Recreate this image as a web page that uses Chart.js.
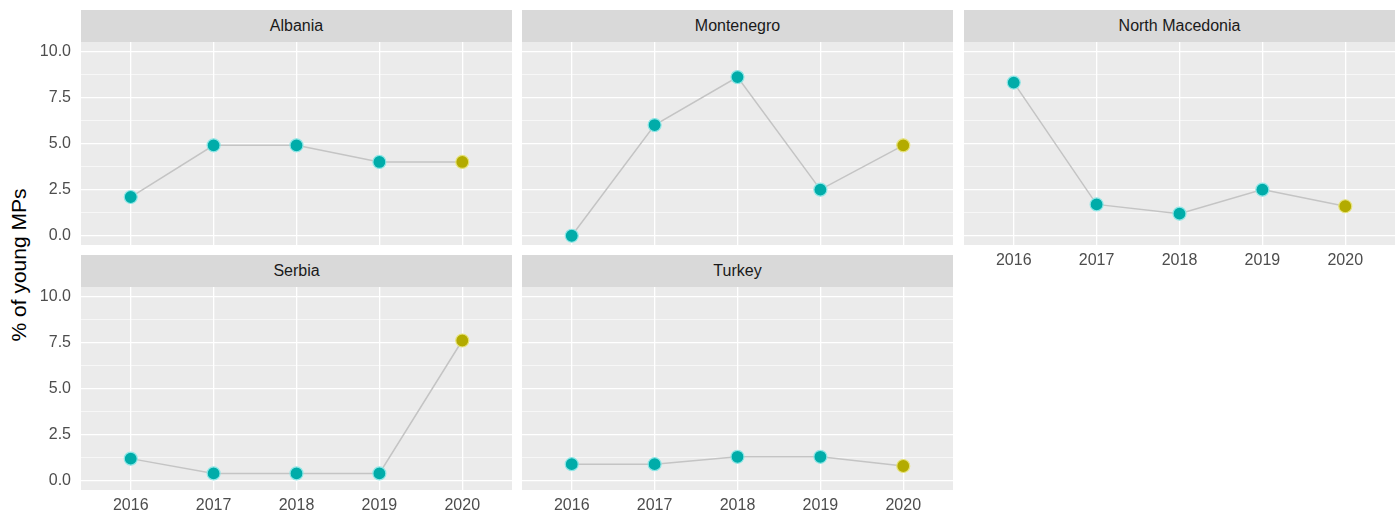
<!DOCTYPE html>
<html lang="en">
<head>
<meta charset="UTF-8">
<title>% of young MPs</title>
<script src="https://cdn.jsdelivr.net/npm/chart.js"></script>
<style>
    body { margin: 0; background: #fff; font-family: "Liberation Sans", Arial, sans-serif; }
    #wrap { position: relative; width: 1400px; height: 515px; overflow: hidden; }
    .strip { position: absolute; height: 32px; line-height: 32px; background: #d9d9d9; color: #1a1a1a; font-size: 16px; text-align: center; }
    canvas { position: absolute; }
    #ytitle { position: absolute; left: 19px; top: 265px; transform: translate(-50%, -50%) rotate(-90deg); font-size: 21px; color: #000; white-space: nowrap; }
</style>
</head>
<body>
<div id="wrap">
    <div id="ytitle">% of young MPs</div>
</div>
<script>
    // data
    var years = [2016, 2017, 2018, 2019, 2020];
    var latestYear = 2020;
    var albania = [2.1, 4.9, 4.9, 4.0, 4.0];
    var montenegro = [0.0, 6.0, 8.6, 2.5, 4.9];
    var northMacedonia = [8.3, 1.7, 1.2, 2.5, 1.6];
    var serbia = [1.2, 0.4, 0.4, 0.4, 7.6];
    var turkey = [0.9, 0.9, 1.3, 1.3, 0.8];
    var yTicks = [0, 2.5, 5, 7.5, 10];
    var yMinor = [1.25, 3.75, 6.25, 8.75];

    var panels = [
        { name: 'Albania', data: albania, left: 81, top: 42, yLabels: true, xLabels: false },
        { name: 'Montenegro', data: montenegro, left: 522, top: 42, yLabels: false, xLabels: false },
        { name: 'North Macedonia', data: northMacedonia, left: 964, top: 42, yLabels: false, xLabels: true },
        { name: 'Serbia', data: serbia, left: 81, top: 287, yLabels: true, xLabels: true },
        { name: 'Turkey', data: turkey, left: 522, top: 287, yLabels: false, xLabels: true }
    ];
    var PW = 431, PH = 203, AXL = 80, AXB = 30, STRIP = 32;

    Chart.defaults.font.family = '"Liberation Sans", Arial, sans-serif';

    var panelBg = {
        id: 'panelBg',
        beforeDraw: function (chart) {
            var a = chart.chartArea, c = chart.ctx;
            c.save();
            c.fillStyle = '#ebebeb';
            c.fillRect(a.left, a.top, a.right - a.left, a.bottom - a.top);
            c.restore();
        }
    };

    var wrap = document.getElementById('wrap');
    panels.forEach(function (p) {
        var strip = document.createElement('div');
        strip.className = 'strip';
        strip.style.left = p.left + 'px';
        strip.style.top = (p.top - STRIP) + 'px';
        strip.style.width = PW + 'px';
        strip.textContent = p.name;
        wrap.appendChild(strip);

        var cv = document.createElement('canvas');
        cv.width = PW + AXL;
        cv.height = PH + AXB;
        cv.style.left = (p.left - AXL) + 'px';
        cv.style.top = p.top + 'px';
        wrap.appendChild(cv);

        new Chart(cv, {
            type: 'line',
            data: {
                datasets: [{
                    data: years.map(function (yr, i) { return { x: yr, y: p.data[i] }; }),
                    borderColor: '#c4c4c4',
                    borderWidth: 1.5,
                    tension: 0,
                    clip: false,
                    pointRadius: 6.5,
                    pointBorderWidth: 1.2,
                    pointBackgroundColor: years.map(function (yr) { return yr === latestYear ? '#b3ab00' : '#00aca9'; }),
                    pointBorderColor: years.map(function (yr) { return yr === latestYear ? '#e6e27a' : '#8fe6e6'; })
                }]
            },
            options: {
                responsive: false,
                animation: false,
                layout: { padding: 0, autoPadding: false },
                plugins: { legend: { display: false }, tooltip: { enabled: false } },
                scales: {
                    x: {
                        type: 'linear',
                        min: 2015.4,
                        max: 2020.6,
                        afterBuildTicks: function (s) { s.ticks = years.map(function (v) { return { value: v }; }); },
                        afterFit: function (s) { s.height = AXB; s.paddingLeft = 0; s.paddingRight = 0; },
                        border: { display: false },
                        grid: { color: '#ffffff', lineWidth: 1.3, drawTicks: false },
                        ticks: {
                            display: p.xLabels,
                            padding: 6,
                            color: '#4d4d4d',
                            font: { size: 16 },
                            autoSkip: false,
                            maxRotation: 0,
                            callback: function (v) { return String(v); }
                        }
                    },
                    y: {
                        min: -0.5,
                        max: 10.5,
                        afterBuildTicks: function (s) {
                            s.ticks = yTicks.concat(yMinor).sort(function (a, b) { return a - b; })
                                .map(function (v) { return { value: v }; });
                        },
                        afterFit: function (s) { s.width = AXL; s.paddingTop = 0; s.paddingBottom = 0; },
                        border: { display: false },
                        grid: {
                            color: '#ffffff',
                            drawTicks: false,
                            lineWidth: function (ctx) {
                                return ctx.tick && yMinor.indexOf(ctx.tick.value) >= 0 ? 0.6 : 1.3;
                            }
                        },
                        ticks: {
                            display: p.yLabels,
                            padding: 10,
                            color: '#4d4d4d',
                            font: { size: 16 },
                            callback: function (v) { return yTicks.indexOf(v) >= 0 ? v.toFixed(1) : ''; }
                        }
                    }
                }
            },
            plugins: [panelBg]
        });
    });
</script>
</body>
</html>
